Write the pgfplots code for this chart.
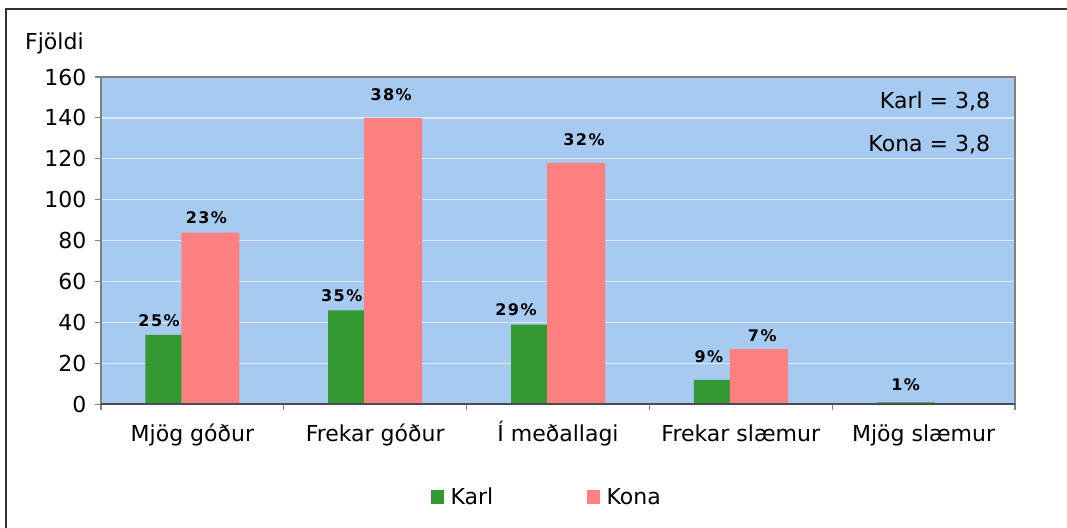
\documentclass[border=0pt]{standalone}
\usepackage{fontspec}
\setmainfont{DejaVu Sans}
\usepackage{pgfplots}
\usepackage{pgfplotstable}
\pgfplotsset{compat=1.18}
\definecolor{karlgreen}{RGB}{51,153,51}
\definecolor{konapink}{RGB}{255,128,128}
\definecolor{plotbg}{RGB}{166,202,240}
\definecolor{gridc}{RGB}{222,234,250}
\newcommand{\txtfont}{\fontsize{16.5}{19}\selectfont}
\newcommand{\labfont}{\fontsize{12}{14}\selectfont\bfseries\addfontfeature{LetterSpace=9}}

% x, count, percentage label, label offsets from category centre (pt)
\pgfplotstableread{
x y lab dx dy
0 34 25 -25 10.7
1 46 35 -25.1 11.25
2 39 29 -31.5 11.25
3 12 9 -24 17.5
4 1 1 -13.5 13.3
}\karl
\pgfplotstableread{
x y lab dx dy
0 84 23 10.5 11.5
1 140 38 12 17.7
2 118 32 19.5 17.7
3 27 7 16.1 10
}\kona

\begin{document}
\begin{tikzpicture}
\useasboundingbox (0,0) rectangle (800.25pt,396pt);
\draw[black!80, line width=1.1pt] (4.5pt,-10pt) -- (4.5pt,389.25pt) -- (810pt,389.25pt);
\begin{axis}[
  at={(75.75pt,92.625pt)}, anchor=south west,
  scale only axis, width=685.5pt, height=245.625pt,
  xmin=-0.5, xmax=4.5, ymin=0, ymax=160,
  xtick={0,...,4},
  xticklabels={Mjög góður, Frekar góður, Í meðallagi, Frekar slæmur, Mjög slæmur},
  minor xtick={-0.5,0.5,...,4.5},
  ytick={0,20,...,160},
  xtick pos=bottom, ytick pos=left,
  ymajorgrids, grid style={gridc, line width=0.9pt},
  major x tick style={draw=none},
  tick align=outside, major tick length=4.5pt, minor tick length=4.5pt,
  tick style={gray, line width=0.8pt},
  axis line style={gray, line width=1pt},
  axis background/.style={fill=plotbg},
  ticklabel style={font=\txtfont},
  yticklabel style={xshift=-3pt},
  xticklabel style={yshift=-8pt, text height=12pt, text depth=3.5pt},
  /pgf/number format/assume math mode=true,
  clip=false,
  legend style={draw=none, fill=none, at={(0.488,-0.2824)}, anchor=center,
    legend columns=2, font=\txtfont,
    /tikz/every odd column/.append style={column sep=3pt},
    /tikz/every even column/.append style={column sep=68pt}},
  legend image code/.code={\fill[#1] (0pt,-5pt) rectangle (10pt,5pt);},
]
\addplot[ybar, bar width=43.5pt, bar shift=-13.5pt, fill=karlgreen, draw=none,
  nodes near coords={\pgfplotspointmeta\%}, point meta=explicit symbolic,
  visualization depends on={\thisrow{dx}\as\dx},
  visualization depends on={\thisrow{dy}\as\dy},
  every node near coord/.append style={anchor=center, xshift=\dx pt, yshift=\dy pt,
    font=\labfont, text=black}]
  table[x=x, y=y, meta=lab] {\karl};
\addlegendentry{Karl}
\addplot[ybar, bar width=43.5pt, bar shift=13.5pt, fill=konapink, draw=none,
  nodes near coords={\pgfplotspointmeta\%}, point meta=explicit symbolic,
  visualization depends on={\thisrow{dx}\as\dx},
  visualization depends on={\thisrow{dy}\as\dy},
  every node near coord/.append style={anchor=center, xshift=\dx pt, yshift=\dy pt,
    font=\labfont, text=black}]
  table[x=x, y=y, meta=lab] {\kona};
\addlegendentry{Kona}
\draw[black!70, line width=1.5pt] (rel axis cs:0,0) -- (rel axis cs:1,0);
\node[anchor=east, inner sep=0pt, font=\txtfont] at (rel axis cs:0.973,0.925) {Karl = 3,8};
\node[anchor=east, inner sep=0pt, font=\txtfont] at (rel axis cs:0.973,0.792) {Kona = 3,8};
\node[anchor=west, inner sep=0pt, font=\txtfont] at (rel axis cs:-0.0832,1.103) {Fjöldi};
\end{axis}
\end{tikzpicture}
\end{document}
